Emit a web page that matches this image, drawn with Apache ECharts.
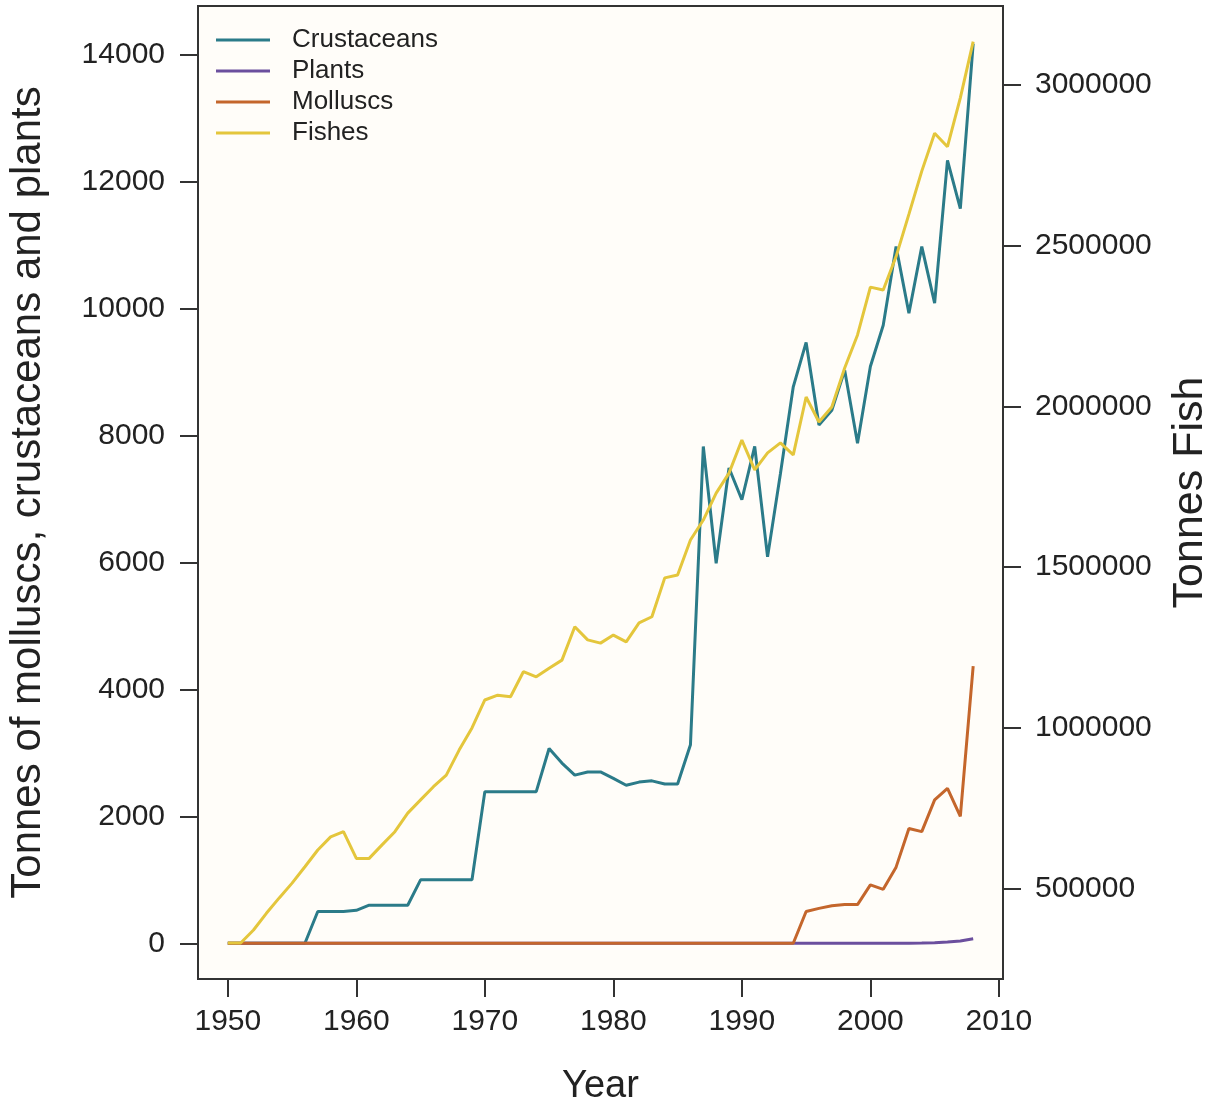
<!DOCTYPE html>
<html>
<head>
<meta charset="utf-8">
<script src="https://cdn.jsdelivr.net/npm/echarts@6/dist/echarts.min.js"></script>
<style>
  html, body { margin: 0; padding: 0; background: #fff; overflow: hidden; }
  #chart { width: 1209px; height: 1105px; }
</style>
</head>
<body>
<div id="chart"></div>
<script>
// years 1950..2008
var years = [1950,1951,1952,1953,1954,1955,1956,1957,1958,1959,
  1960,1961,1962,1963,1964,1965,1966,1967,1968,1969,
  1970,1971,1972,1973,1974,1975,1976,1977,1978,1979,
  1980,1981,1982,1983,1984,1985,1986,1987,1988,1989,
  1990,1991,1992,1993,1994,1995,1996,1997,1998,1999,
  2000,2001,2002,2003,2004,2005,2006,2007,2008];

// tonnes (left axis)
var crustaceans = [0,0,0,0,0,0,0,500,500,500,
  520,600,600,600,600,1000,1000,1000,1000,1000,
  2390,2390,2390,2390,2390,3070,2840,2650,2700,2700,
  2600,2490,2540,2560,2510,2510,3130,7830,5990,7490,
  6990,7830,6090,7400,8770,9470,8170,8400,9030,7880,
  9090,9740,10980,9930,10980,10090,12340,11580,14180];

var plants = [0,0,0,0,0,0,0,0,0,0,
  0,0,0,0,0,0,0,0,0,0,
  0,0,0,0,0,0,0,0,0,0,
  0,0,0,0,0,0,0,0,0,0,
  0,0,0,0,0,0,0,0,0,0,
  0,0,0,2,5,10,20,35,70];

var molluscs = [0,0,0,0,0,0,0,0,0,0,
  0,0,0,0,0,0,0,0,0,0,
  0,0,0,0,0,0,0,0,0,0,
  0,0,0,0,0,0,0,0,0,0,
  0,0,0,0,0,500,550,590,610,610,
  920,850,1200,1810,1760,2260,2440,2000,4370];

// tonnes fish (right axis)
var fishes = [329600,329600,370000,422000,470000,516000,567000,619000,660000,676000,
  593000,593000,635000,676000,734000,775000,816000,852000,930000,999000,
  1086000,1101000,1096000,1174000,1158000,1185000,1210000,1314000,1273000,1263000,
  1288000,1267000,1326000,1345000,1466000,1475000,1584000,1646000,1730000,1792000,
  1895000,1802000,1855000,1886000,1849000,2029000,1951000,1998000,2119000,2222000,
  2371000,2362000,2466000,2598000,2732000,2850000,2808000,2960000,3135000];

var xTicks = [1950,1960,1970,1980,1990,2000,2010];
var leftTicks = [0,2000,4000,6000,8000,10000,12000,14000];
var rightTicks = [500000,1000000,1500000,2000000,2500000,3000000];

function pairs(arr) {
  return years.map(function (y, i) { return [y, arr[i]]; });
}

var font = 'Liberation Sans, Arial, Helvetica, sans-serif';
var axisCol = '#333';
var textCol = '#222';

var chart = echarts.init(document.getElementById('chart'));

var option = {
  animation: false,
  backgroundColor: '#fff',
  textStyle: { fontFamily: font },
  grid: {
    left: 198, right: 206, top: 6, bottom: 126,
    outerBoundsMode: 'none',
    containLabel: false,
    show: true, borderColor: axisCol, borderWidth: 2,
    backgroundColor: '#fffdf9'
  },
  legend: {
    orient: 'vertical',
    left: 211, top: 22,
    icon: 'rect',
    itemWidth: 54, itemHeight: 3, itemGap: 5,
    data: ['Crustaceans', 'Plants', 'Molluscs', 'Fishes'],
    textStyle: { fontSize: 26, color: textCol, fontFamily: font, padding: [0, 0, 0, 17] }
  },
  xAxis: {
    type: 'value',
    min: 1947.68, max: 2010.32,
    name: 'Year', nameLocation: 'middle', nameGap: 89,
    nameTextStyle: { fontSize: 38, color: textCol, fontFamily: font },
    axisLine: { show: false, onZero: false },
    axisTick: { show: true, length: 18, lineStyle: { color: axisCol, width: 2 }, customValues: xTicks },
    axisLabel: { fontSize: 30, color: textCol, margin: 28, customValues: xTicks, formatter: function (v) { return String(v); } },
    splitLine: { show: false }
  },
  yAxis: [{
    type: 'value',
    min: -563, max: 14772,
    name: 'Tonnes of molluscs, crustaceans and plants',
    nameLocation: 'middle', nameRotate: 90, nameGap: 149,
    nameTextStyle: { fontSize: 42, color: textCol, fontFamily: font },
    axisLine: { show: false, onZero: false },
    axisTick: { show: true, length: 18, lineStyle: { color: axisCol, width: 2 }, customValues: leftTicks },
    axisLabel: { fontSize: 30, color: textCol, margin: 33, customValues: leftTicks, formatter: function (v) { return String(v); } },
    splitLine: { show: false }
  }, {
    type: 'value',
    position: 'right',
    min: 217600, max: 3245900,
    name: 'Tonnes Fish',
    nameLocation: 'middle', nameRotate: 90, nameGap: 166,
    nameTextStyle: { fontSize: 43, color: textCol, fontFamily: font },
    axisLine: { show: false, onZero: false },
    axisTick: { show: true, length: 18, lineStyle: { color: axisCol, width: 2 }, customValues: rightTicks },
    axisLabel: { fontSize: 30, color: textCol, margin: 32, customValues: rightTicks, formatter: function (v) { return String(v); } },
    splitLine: { show: false }
  }],
  series: [{
    name: 'Crustaceans', type: 'line', symbol: 'none',
    data: pairs(crustaceans),
    lineStyle: { color: '#2b7b89', width: 3 }, itemStyle: { color: '#2b7b89' }
  }, {
    name: 'Plants', type: 'line', symbol: 'none',
    data: pairs(plants),
    lineStyle: { color: '#6b4f9e', width: 3 }, itemStyle: { color: '#6b4f9e' }
  }, {
    name: 'Molluscs', type: 'line', symbol: 'none',
    data: pairs(molluscs),
    lineStyle: { color: '#c4662c', width: 3 }, itemStyle: { color: '#c4662c' }
  }, {
    name: 'Fishes', type: 'line', symbol: 'none', yAxisIndex: 1,
    data: pairs(fishes),
    lineStyle: { color: '#e4c63c', width: 3 }, itemStyle: { color: '#e4c63c' }
  }]
};

chart.setOption(option);
</script>
</body>
</html>
